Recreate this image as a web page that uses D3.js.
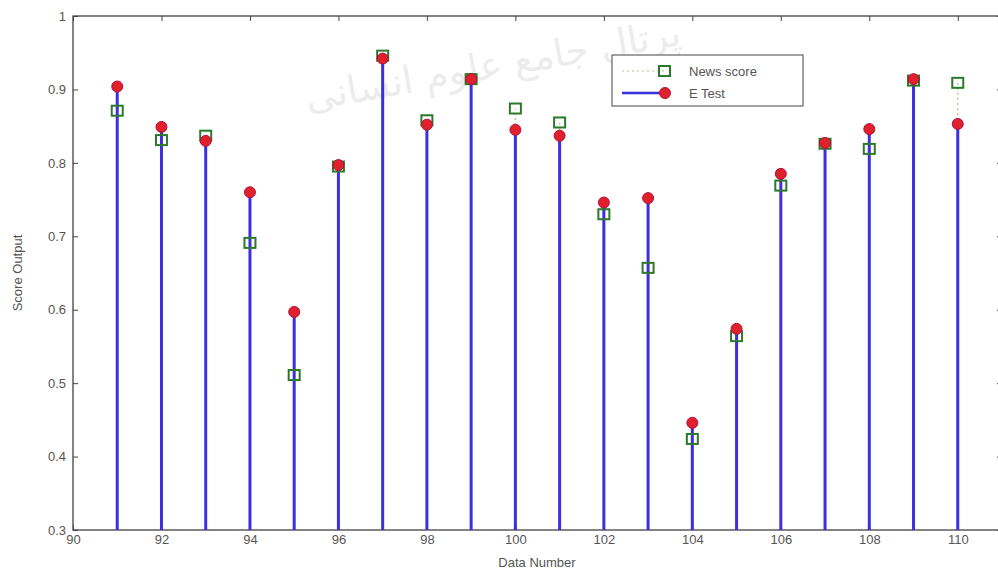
<!DOCTYPE html>
<html><head><meta charset="utf-8">
<script src="https://cdn.jsdelivr.net/npm/d3@7"></script>
<style>body{margin:0;background:#fff}text{font-family:"Liberation Sans",Arial,sans-serif}</style>
</head><body><svg id="c" width="998" height="572"></svg>
<script>
const dataNumbers = [91,92,93,94,95,96,97,98,99,100,101,102,103,104,105,106,107,108,109,110];
const eTest =      [0.904,0.849,0.830,0.760,0.597,0.797,0.942,0.852,0.914,0.845,0.837,0.746,0.752,0.446,0.574,0.785,0.827,0.846,0.914,0.853];
const newsScore =  [0.871,0.831,0.837,0.691,0.511,0.795,0.946,0.858,0.914,0.874,0.855,0.730,0.657,0.424,0.564,0.769,0.826,0.819,0.912,0.909];
const xTicks = [90,92,94,96,98,100,102,104,106,108,110];
const yTicks = [0.3,0.4,0.5,0.6,0.7,0.8,0.9,1];
const seriesNames = ["News score","E Test"];

const svg = d3.select("#c");
const m = {l:73, t:16, r:1002, b:530};
const x = d3.scaleLinear().domain([90,111]).range([m.l,m.r]);
const y = d3.scaleLinear().domain([0.3,1]).range([m.b,m.t]);
const txt = "#555";

// watermark
svg.append("text").attr("x",495).attr("y",78).attr("text-anchor","middle")
  .attr("transform","rotate(-10,495,78)")
  .style("font-family","'DejaVu Sans',sans-serif").style("font-size","38px")
  .attr("fill","#999").attr("opacity",0.18).text("پرتال جامع علوم انسانی");

// axes box
svg.append("rect").attr("x",m.l).attr("y",m.t).attr("width",m.r-m.l).attr("height",m.b-m.t)
  .attr("fill","none").attr("stroke","#333").attr("stroke-width",1.2);

const gx = svg.append("g").attr("transform",`translate(0,${m.b})`)
  .call(d3.axisBottom(x).tickValues(xTicks).tickSizeInner(-5).tickSizeOuter(0).tickPadding(9).tickFormat(d3.format("d")));
const gxt = svg.append("g").attr("transform",`translate(0,${m.t})`)
  .call(d3.axisTop(x).tickValues(xTicks).tickSizeInner(-5).tickSizeOuter(0).tickFormat(""));
const gy = svg.append("g").attr("transform",`translate(${m.l},0)`)
  .call(d3.axisLeft(y).tickValues(yTicks).tickSizeInner(-5).tickSizeOuter(0).tickPadding(7).tickFormat(d=>d3.format("")(+d.toFixed(1))));
const gyr = svg.append("g").attr("transform",`translate(${m.r},0)`)
  .call(d3.axisRight(y).tickValues(yTicks).tickSizeInner(-5).tickSizeOuter(0).tickFormat(""));
[gx,gxt,gy,gyr].forEach(g=>{g.select(".domain").remove();g.selectAll("line").attr("stroke","#444");
  g.selectAll("text").attr("fill",txt).style("font-size","13px");});
gx.selectAll("text").attr("dy","0.4em");

// labels
svg.append("text").attr("x",537).attr("y",567).attr("text-anchor","middle").attr("fill",txt)
  .style("font-size","13px").text("Data Number");
svg.append("text").attr("transform","translate(22,273) rotate(-90)").attr("text-anchor","middle").attr("fill",txt)
  .style("font-size","13px").text("Score Output");

// news stems (dotted)
svg.append("g").selectAll("line").data(dataNumbers).join("line")
  .attr("x1",d=>x(d)).attr("x2",d=>x(d)).attr("y1",y(0.3)).attr("y2",(d,i)=>y(newsScore[i]))
  .attr("stroke","#b8d0a0").attr("stroke-width",1.5).attr("stroke-dasharray","2,3");
// E stems
svg.append("g").selectAll("line").data(dataNumbers).join("line")
  .attr("x1",d=>x(d)).attr("x2",d=>x(d)).attr("y1",y(0.3)).attr("y2",(d,i)=>y(eTest[i]))
  .attr("stroke","#3d2fe0").attr("stroke-width",3);
// news squares
svg.append("g").selectAll("rect").data(dataNumbers).join("rect")
  .attr("x",d=>x(d)-5.5).attr("y",(d,i)=>y(newsScore[i])-5).attr("width",11).attr("height",10)
  .attr("fill","none").attr("stroke","#2a7a2a").attr("stroke-width",2);
// E markers
svg.append("g").selectAll("circle").data(dataNumbers).join("circle")
  .attr("cx",d=>x(d)).attr("cy",(d,i)=>y(eTest[i])).attr("r",5.5)
  .attr("fill","#e0202a").attr("stroke","#b01040").attr("stroke-width",1);

// legend
const lg = svg.append("g");
lg.append("rect").attr("x",612).attr("y",55).attr("width",191).attr("height",51)
  .attr("fill","#fff").attr("stroke","#444").attr("stroke-width",1);
lg.append("line").attr("x1",622).attr("x2",664).attr("y1",71).attr("y2",71)
  .attr("stroke","#d0d8c0").attr("stroke-width",1.5).attr("stroke-dasharray","2,3");
lg.append("rect").attr("x",659).attr("y",66).attr("width",11).attr("height",10)
  .attr("fill","none").attr("stroke","#2a7a2a").attr("stroke-width",2);
lg.append("line").attr("x1",622).attr("x2",664).attr("y1",93).attr("y2",93)
  .attr("stroke","#3d2fe0").attr("stroke-width",2.5);
lg.append("circle").attr("cx",665).attr("cy",93).attr("r",5.5).attr("fill","#e0202a").attr("stroke","#b01040");
lg.append("text").attr("x",689).attr("y",76).attr("fill",txt).style("font-size","13px").text(seriesNames[0]);
lg.append("text").attr("x",689).attr("y",98).attr("fill",txt).style("font-size","13px").text(seriesNames[1]);
</script></body></html>
